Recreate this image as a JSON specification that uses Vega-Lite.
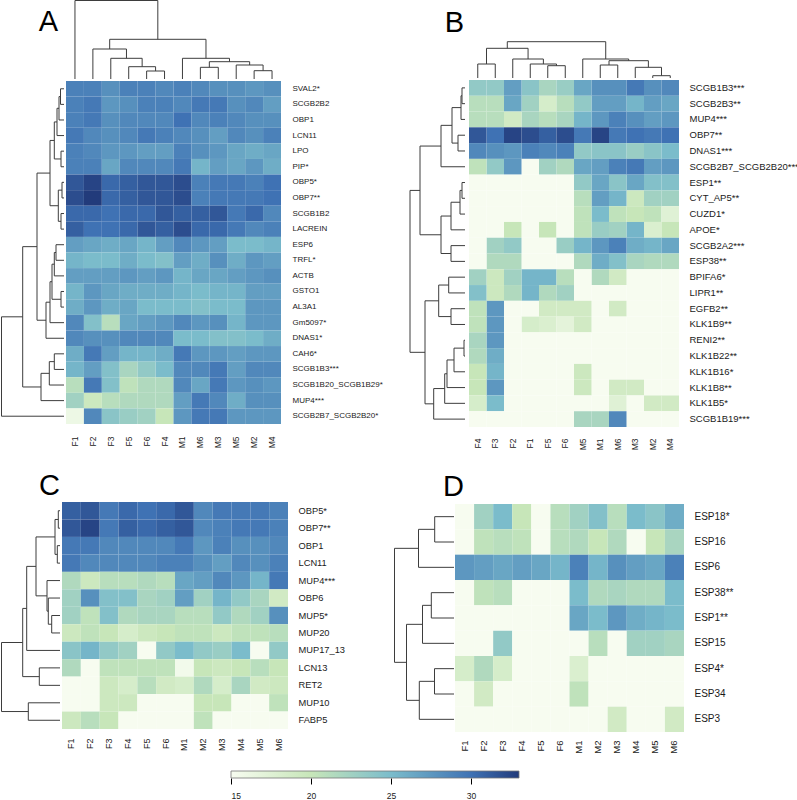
{
 "$schema": "https://vega.github.io/schema/vega-lite/v6.json",
 "padding": 0,
 "background": "white",
 "config": {
   "view": {"stroke": null},
   "font": "Liberation Sans",
   "axis": {"labelFont": "Liberation Sans", "labelColor": "#1a1a1a", "ticks": false, "domain": false, "grid": false}
 },
 "datasets": {
  "A": [
   {"gene":"SVAL2*","F1":29,"F2":29,"F3":28,"F5":29,"F6":29,"F4":28.5,"M1":29,"M6":28.5,"M3":28,"M5":28,"M2":27.5,"M4":28},
   {"gene":"SCGB2B2","F1":29,"F2":29.5,"F3":27.5,"F5":28,"F6":29,"F4":29,"M1":28.5,"M6":29.5,"M3":29.5,"M5":28,"M2":28.5,"M4":27},
   {"gene":"OBP1","F1":29,"F2":29.5,"F3":28,"F5":28.5,"F6":28.5,"F4":28.5,"M1":30,"M6":28.5,"M3":29,"M5":28.5,"M2":28,"M4":28},
   {"gene":"LCN11","F1":29.5,"F2":28.5,"F3":28,"F5":28.5,"F6":29.5,"F4":29,"M1":28.5,"M6":28,"M3":27,"M5":28.5,"M2":28,"M4":29},
   {"gene":"LPO","F1":29,"F2":28.5,"F3":27.5,"F5":27.5,"F6":27,"F4":27,"M1":29,"M6":28,"M3":27.5,"M5":26.5,"M2":26,"M4":26.5},
   {"gene":"PIP*","F1":29,"F2":29,"F3":26.5,"F5":28.5,"F6":28.5,"F4":28.5,"M1":29.5,"M6":25.5,"M3":27,"M5":26.5,"M2":27.5,"M4":26},
   {"gene":"OBP5*","F1":31.5,"F2":32.5,"F3":30.5,"F5":31,"F6":31.5,"F4":31.5,"M1":32,"M6":29,"M3":29.5,"M5":29.5,"M2":29,"M4":30},
   {"gene":"OBP7**","F1":32,"F2":33,"F3":30.5,"F5":31,"F6":31.5,"F4":31.5,"M1":32,"M6":29,"M3":29.5,"M5":29.5,"M2":29.5,"M4":30},
   {"gene":"SCGB1B2","F1":30.5,"F2":30.5,"F3":30,"F5":30.5,"F6":30.5,"F4":31.5,"M1":31,"M6":31,"M3":31.5,"M5":29.5,"M2":30.5,"M4":28.5},
   {"gene":"LACREIN","F1":31,"F2":30,"F3":30,"F5":30.5,"F6":31.5,"F4":31,"M1":32,"M6":30.5,"M3":30.5,"M5":29.5,"M2":28.5,"M4":29},
   {"gene":"ESP6","F1":27,"F2":26.5,"F3":26,"F5":26.5,"F6":25.5,"F4":27,"M1":28.5,"M6":27.5,"M3":27,"M5":25,"M2":25,"M4":25.5},
   {"gene":"TRFL*","F1":25.5,"F2":25,"F3":25,"F5":26,"F6":25,"F4":24.5,"M1":27,"M6":26,"M3":28,"M5":26,"M2":27.5,"M4":27},
   {"gene":"ACTB","F1":27,"F2":27,"F3":27,"F5":27.5,"F6":27,"F4":27.5,"M1":25.5,"M6":26.5,"M3":26.5,"M5":27,"M2":27.5,"M4":28},
   {"gene":"GSTO1","F1":25.5,"F2":27.5,"F3":26.5,"F5":26,"F6":26,"F4":26,"M1":25.5,"M6":25,"M3":25.5,"M5":25.5,"M2":27,"M4":27},
   {"gene":"AL3A1","F1":26,"F2":27.5,"F3":26,"F5":26.5,"F6":25,"F4":25,"M1":25,"M6":24.5,"M3":25,"M5":25,"M2":27.5,"M4":27.5},
   {"gene":"Gm5097*","F1":28.5,"F2":24.5,"F3":21,"F5":26.5,"F6":27,"F4":27.5,"M1":28.5,"M6":27.5,"M3":28,"M5":25.5,"M2":27.5,"M4":27.5},
   {"gene":"DNAS1*","F1":28.5,"F2":28,"F3":28,"F5":28.5,"F6":28.5,"F4":28.5,"M1":25,"M6":25,"M3":24.5,"M5":24.5,"M2":25,"M4":26},
   {"gene":"CAH6*","F1":26,"F2":29.5,"F3":27,"F5":25.5,"F6":25.5,"F4":26,"M1":29.5,"M6":27.5,"M3":27.5,"M5":27,"M2":27.5,"M4":27.5},
   {"gene":"SCGB1B3***","F1":25.5,"F2":27,"F3":24.5,"F5":22,"F6":23.5,"F4":25,"M1":28.5,"M6":28.5,"M3":29.5,"M5":27,"M2":28.5,"M4":28.5},
   {"gene":"SCGB1B20_SCGB1B29*","F1":21,"F2":29.5,"F3":24.5,"F5":20.5,"F6":21.5,"F4":21.5,"M1":28.5,"M6":26.5,"M3":29.5,"M5":27.5,"M2":28,"M4":27.5},
   {"gene":"MUP4***","F1":22.5,"F2":19.5,"F3":21,"F5":21.5,"F6":21.5,"F4":21.5,"M1":27,"M6":29.5,"M3":28.5,"M5":26,"M2":28,"M4":28},
   {"gene":"SCGB2B7_SCGB2B20*","F1":16,"F2":28.5,"F3":24,"F5":23,"F6":22.5,"F4":20,"M1":27.5,"M6":29.5,"M3":29.5,"M5":27.5,"M2":27.5,"M4":27.5}
  ],
  "B": [
   {"gene":"SCGB1B3***","F4":23.5,"F3":23.5,"F2":27,"F1":24,"F5":22,"F6":23,"M5":26.5,"M1":28,"M6":28,"M3":29.5,"M2":28,"M4":28.5},
   {"gene":"SCGB2B3**","F4":21,"F3":21,"F2":26.5,"F1":22.5,"F5":18.5,"F6":21,"M5":23.5,"M1":27,"M6":27,"M3":25.5,"M2":27,"M4":26.5},
   {"gene":"MUP4***","F4":21,"F3":21,"F2":19,"F1":22,"F5":21,"F6":22,"M5":25.5,"M1":27.5,"M6":29,"M3":28,"M2":27,"M4":27.5},
   {"gene":"OBP7**","F4":31.5,"F3":30,"F2":32.5,"F1":32,"F5":31,"F6":32,"M5":29.5,"M1":32.5,"M6":29.5,"M3":30,"M2":29.5,"M4":30},
   {"gene":"DNAS1***","F4":28.5,"F3":28,"F2":27.5,"F1":29,"F5":28.5,"F6":29,"M5":23.5,"M1":24,"M6":24,"M3":23,"M2":24,"M4":25},
   {"gene":"SCGB2B7_SCGB2B20***","F4":20.5,"F3":23.5,"F2":27.5,"F1":15,"F5":22.5,"F6":21.5,"M5":26.5,"M1":27,"M6":29,"M3":29.5,"M2":27,"M4":27.5},
   {"gene":"ESP1**","F4":15,"F3":15,"F2":15,"F1":15,"F5":15,"F6":15,"M5":23.5,"M1":26.5,"M6":24,"M3":26.5,"M2":24.5,"M4":24.5},
   {"gene":"CYT_AP5**","F4":15,"F3":15,"F2":15,"F1":15,"F5":15,"F6":15,"M5":21,"M1":27,"M6":25.5,"M3":19.5,"M2":22.5,"M4":22.5},
   {"gene":"CUZD1*","F4":15,"F3":15,"F2":15,"F1":15,"F5":15,"F6":15,"M5":20.5,"M1":25,"M6":20.5,"M3":20,"M2":20.5,"M4":17.5},
   {"gene":"APOE*","F4":15,"F3":15,"F2":20,"F1":15,"F5":20,"F6":15,"M5":20.5,"M1":23,"M6":22.5,"M3":25.5,"M2":18,"M4":20},
   {"gene":"SCGB2A2***","F4":15,"F3":22.5,"F2":23.5,"F1":15,"F5":15,"F6":23,"M5":25.5,"M1":27.5,"M6":29,"M3":26,"M2":25.5,"M4":26.5},
   {"gene":"ESP38**","F4":15,"F3":21.5,"F2":21.5,"F1":15,"F5":15,"F6":15,"M5":21.5,"M1":26,"M6":24.5,"M3":22,"M2":21.5,"M4":21.5},
   {"gene":"BPIFA6*","F4":22.5,"F3":19.5,"F2":22.5,"F1":25.5,"F5":25.5,"F6":21,"M5":15,"M1":21.5,"M6":19,"M3":15,"M2":15,"M4":15},
   {"gene":"LIPR1**","F4":24.5,"F3":19.5,"F2":21.5,"F1":25.5,"F5":21.5,"F6":22.5,"M5":15,"M1":15,"M6":15,"M3":15,"M2":15,"M4":15},
   {"gene":"EGFB2**","F4":20.5,"F3":27.5,"F2":15,"F1":15,"F5":19,"F6":19,"M5":19,"M1":15,"M6":19,"M3":15,"M2":15,"M4":15},
   {"gene":"KLK1B9**","F4":20.5,"F3":27.5,"F2":15,"F1":18.5,"F5":18,"F6":17,"M5":19,"M1":15,"M6":15,"M3":15,"M2":15,"M4":15},
   {"gene":"RENI2**","F4":22,"F3":27.5,"F2":15,"F1":15,"F5":15,"F6":15,"M5":15,"M1":15,"M6":15,"M3":15,"M2":15,"M4":15},
   {"gene":"KLK1B22**","F4":21.5,"F3":26,"F2":15,"F1":15,"F5":15,"F6":15,"M5":15,"M1":15,"M6":15,"M3":15,"M2":15,"M4":15},
   {"gene":"KLK1B16*","F4":20,"F3":25.5,"F2":15,"F1":15,"F5":15,"F6":15,"M5":19.5,"M1":15,"M6":15,"M3":15,"M2":15,"M4":15},
   {"gene":"KLK1B8**","F4":20,"F3":27.5,"F2":15,"F1":15,"F5":15,"F6":15,"M5":19.5,"M1":15,"M6":19,"M3":19,"M2":15,"M4":15},
   {"gene":"KLK1B5*","F4":18.5,"F3":25,"F2":15,"F1":15,"F5":15,"F6":15,"M5":15,"M1":15,"M6":17.5,"M3":15,"M2":19,"M4":19},
   {"gene":"SCGB1B19***","F4":15,"F3":15,"F2":15,"F1":15,"F5":15,"F6":15,"M5":22,"M1":22,"M6":28.5,"M3":15,"M2":15,"M4":15}
  ],
  "C": [
   {"gene":"OBP5*","F1":31,"F2":31.5,"F3":29.5,"F4":30.5,"F5":30,"F6":30.5,"M1":31.5,"M2":28.5,"M3":29.5,"M4":29.5,"M5":29.5,"M6":29},
   {"gene":"OBP7**","F1":31.5,"F2":32.5,"F3":29.5,"F4":31,"F5":30.5,"F6":31,"M1":31.5,"M2":28.5,"M3":29,"M4":29.5,"M5":29.5,"M6":29},
   {"gene":"OBP1","F1":29.5,"F2":29.5,"F3":28.5,"F4":28.5,"F5":28.5,"F6":28.5,"M1":29.5,"M2":27.5,"M3":29,"M4":28,"M5":28,"M6":28.5},
   {"gene":"LCN11","F1":29.5,"F2":28.5,"F3":28.5,"F4":28.5,"F5":28.5,"F6":29,"M1":29,"M2":28,"M3":27,"M4":28.5,"M5":28,"M6":29},
   {"gene":"MUP4***","F1":21.5,"F2":19.5,"F3":21,"F4":21,"F5":21.5,"F6":21,"M1":26.5,"M2":27,"M3":28.5,"M4":27.5,"M5":25.5,"M6":29.5},
   {"gene":"OBP6","F1":22.5,"F2":28,"F3":24.5,"F4":24.5,"F5":22,"F6":22.5,"M1":27,"M2":22.5,"M3":25.5,"M4":23.5,"M5":22,"M6":19},
   {"gene":"MUP5*","F1":22.5,"F2":20.5,"F3":24.5,"F4":21.5,"F5":22,"F6":22,"M1":21,"M2":21,"M3":23.5,"M4":21.5,"M5":22.5,"M6":28},
   {"gene":"MUP20","F1":19.5,"F2":20.5,"F3":20,"F4":18.5,"F5":19.5,"F6":20,"M1":20.5,"M2":20.5,"M3":19.5,"M4":20.5,"M5":20.5,"M6":21},
   {"gene":"MUP17_13","F1":24,"F2":25.5,"F3":23.5,"F4":22.5,"F5":15,"F6":23.5,"M1":25,"M2":23.5,"M3":23,"M4":25,"M5":15,"M6":23.5},
   {"gene":"LCN13","F1":21.5,"F2":15,"F3":20.5,"F4":20.5,"F5":20.5,"F6":20.5,"M1":15.5,"M2":20,"M3":19.5,"M4":20,"M5":21,"M6":20},
   {"gene":"RET2","F1":15,"F2":15,"F3":19.5,"F4":18.5,"F5":21,"F6":19,"M1":18.5,"M2":21.5,"M3":18.5,"M4":22,"M5":19,"M6":19.5},
   {"gene":"MUP10","F1":15,"F2":15,"F3":19.5,"F4":19.5,"F5":15,"F6":15,"M1":15,"M2":20,"M3":20,"M4":15,"M5":15,"M6":20.5},
   {"gene":"FABP5","F1":19.5,"F2":21,"F3":20,"F4":15,"F5":15,"F6":15,"M1":15,"M2":20.5,"M3":15,"M4":15,"M5":15,"M6":15}
  ],
  "D": [
   {"gene":"ESP18*","F1":15,"F2":22.5,"F3":25,"F4":20,"F5":15,"F6":21,"M1":22.5,"M2":24.5,"M3":21,"M4":25,"M5":24,"M6":26},
   {"gene":"ESP16","F1":15,"F2":20.5,"F3":21,"F4":20.5,"F5":15,"F6":21,"M1":21.5,"M2":20,"M3":21.5,"M4":15,"M5":20,"M6":22},
   {"gene":"ESP6","F1":27.5,"F2":27,"F3":26.5,"F4":27,"F5":26.5,"F6":25.5,"M1":29,"M2":25.5,"M3":28,"M4":27,"M5":26.5,"M6":29},
   {"gene":"ESP38**","F1":15,"F2":20.5,"F3":21,"F4":15,"F5":15,"F6":15,"M1":25,"M2":21.5,"M3":22,"M4":21.5,"M5":21.5,"M6":25},
   {"gene":"ESP1**","F1":15,"F2":15,"F3":15,"F4":15,"F5":15,"F6":15,"M1":26.5,"M2":25,"M3":27.5,"M4":26,"M5":25.5,"M6":25},
   {"gene":"ESP15","F1":15,"F2":15,"F3":23.5,"F4":15,"F5":15,"F6":15,"M1":15,"M2":21,"M3":15,"M4":22.5,"M5":22.5,"M6":22},
   {"gene":"ESP4*","F1":18.5,"F2":21.5,"F3":18.5,"F4":15,"F5":15,"F6":15,"M1":18,"M2":15,"M3":15,"M4":15,"M5":15,"M6":15},
   {"gene":"ESP34","F1":15,"F2":19,"F3":15,"F4":15,"F5":15,"F6":15,"M1":20.5,"M2":15,"M3":15,"M4":15,"M5":15,"M6":15},
   {"gene":"ESP3","F1":15,"F2":15,"F3":15,"F4":15,"F5":15,"F6":15,"M1":15,"M2":15,"M3":19,"M4":15,"M5":15,"M6":19}
  ],
  "treeA_col": [
   {"lo":4.5,"hi":5.5,"h":8,"hl":0,"hr":0},
   {"lo":3.5,"hi":5,"h":12.3,"hl":0,"hr":8},
   {"lo":2.5,"hi":4.25,"h":20.7,"hl":0,"hr":12.3},
   {"lo":1.5,"hi":3.375,"h":30,"hl":0,"hr":20.7},
   {"lo":7.5,"hi":8.5,"h":11.7,"hl":0,"hr":0},
   {"lo":10.5,"hi":11.5,"h":8.3,"hl":0,"hr":0},
   {"lo":9.5,"hi":11,"h":14,"hl":0,"hr":8.3},
   {"lo":8,"hi":10.25,"h":17.3,"hl":11.7,"hr":14},
   {"lo":6.5,"hi":9.125,"h":20.7,"hl":0,"hr":17.3},
   {"lo":2.4375,"hi":7.8125,"h":39.7,"hl":30,"hr":20.7},
   {"lo":0.5,"hi":5.125,"h":78.5,"hl":0,"hr":39.7}
  ],
  "treeA_row": [
   {"lo":0.5,"hi":1.5,"h":3.5,"hl":0,"hr":0},
   {"lo":1,"hi":2.5,"h":5,"hl":3.5,"hr":0},
   {"lo":1.75,"hi":3.5,"h":7,"hl":5,"hr":0},
   {"lo":4.5,"hi":5.5,"h":3,"hl":0,"hr":0},
   {"lo":2.625,"hi":5,"h":9.7,"hl":7,"hr":3},
   {"lo":6.5,"hi":7.5,"h":2,"hl":0,"hr":0},
   {"lo":8.5,"hi":9.5,"h":3,"hl":0,"hr":0},
   {"lo":7,"hi":9,"h":5.7,"hl":2,"hr":3},
   {"lo":3.8125,"hi":8,"h":14,"hl":9.7,"hr":5.7},
   {"lo":10.5,"hi":11.5,"h":8,"hl":0,"hr":0},
   {"lo":11,"hi":12.5,"h":9.7,"hl":8,"hr":0},
   {"lo":13.5,"hi":14.5,"h":3,"hl":0,"hr":0},
   {"lo":11.75,"hi":14,"h":12,"hl":9.7,"hr":3},
   {"lo":12.875,"hi":15.5,"h":14,"hl":12,"hr":0},
   {"lo":14.1875,"hi":16.5,"h":18,"hl":14,"hr":0},
   {"lo":5.90625,"hi":15.34375,"h":27,"hl":14,"hr":18},
   {"lo":17.5,"hi":18.5,"h":9.7,"hl":0,"hr":0},
   {"lo":18,"hi":19.5,"h":14.7,"hl":9.7,"hr":0},
   {"lo":18.75,"hi":20.5,"h":23,"hl":14.7,"hr":0},
   {"lo":10.625,"hi":19.625,"h":41.3,"hl":27,"hr":23},
   {"lo":15.125,"hi":21.5,"h":62.5,"hl":41.3,"hr":0}
  ],
  "treeB_col": [
   {"lo":0.5,"hi":1.5,"h":14,"hl":0,"hr":0},
   {"lo":4.5,"hi":5.5,"h":12.3,"hl":0,"hr":0},
   {"lo":3.5,"hi":5,"h":14,"hl":0,"hr":12.3},
   {"lo":2.5,"hi":4.25,"h":19,"hl":0,"hr":14},
   {"lo":1,"hi":3.375,"h":29.7,"hl":14,"hr":19},
   {"lo":7.5,"hi":8.5,"h":13,"hl":0,"hr":0},
   {"lo":10.5,"hi":11.5,"h":2.3,"hl":0,"hr":0},
   {"lo":9.5,"hi":11,"h":10.7,"hl":0,"hr":2.3},
   {"lo":8,"hi":10.25,"h":17.3,"hl":13,"hr":10.7},
   {"lo":6.5,"hi":9.125,"h":19,"hl":0,"hr":17.3},
   {"lo":2.1875,"hi":7.8125,"h":36.3,"hl":29.7,"hr":19}
  ],
  "treeB_row": [
   {"lo":0.5,"hi":1.5,"h":3,"hl":0,"hr":0},
   {"lo":1,"hi":2.5,"h":4,"hl":3,"hr":0},
   {"lo":3.5,"hi":4.5,"h":7,"hl":0,"hr":0},
   {"lo":1.75,"hi":4,"h":13,"hl":4,"hr":7},
   {"lo":2.875,"hi":5.5,"h":24,"hl":13,"hr":0},
   {"lo":6.5,"hi":7.5,"h":3,"hl":0,"hr":0},
   {"lo":7,"hi":8.5,"h":5,"hl":3,"hr":0},
   {"lo":7.75,"hi":9.5,"h":14,"hl":5,"hr":0},
   {"lo":10.5,"hi":11.5,"h":14,"hl":0,"hr":0},
   {"lo":8.625,"hi":11,"h":24,"hl":14,"hr":14},
   {"lo":4.1875,"hi":9.8125,"h":45,"hl":24,"hr":24},
   {"lo":12.5,"hi":13.5,"h":16.3,"hl":0,"hr":0},
   {"lo":14.5,"hi":15.5,"h":14,"hl":0,"hr":0},
   {"lo":13,"hi":15,"h":26.3,"hl":16.3,"hr":14},
   {"lo":16.5,"hi":17.5,"h":1,"hl":0,"hr":0},
   {"lo":17,"hi":18.5,"h":11,"hl":1,"hr":0},
   {"lo":17.75,"hi":19.5,"h":18,"hl":11,"hr":0},
   {"lo":18.625,"hi":20.5,"h":20.3,"hl":18,"hr":0},
   {"lo":19.5625,"hi":21.5,"h":31.3,"hl":20.3,"hr":0},
   {"lo":14,"hi":20.53125,"h":40,"hl":26.3,"hr":31.3},
   {"lo":7,"hi":17.265625,"h":55,"hl":45,"hr":40}
  ],
  "treeC_row": [
   {"lo":0.5,"hi":1.5,"h":1.7,"hl":0,"hr":0},
   {"lo":2.5,"hi":3.5,"h":2.7,"hl":0,"hr":0},
   {"lo":1,"hi":3,"h":5,"hl":1.7,"hr":2.7},
   {"lo":6.5,"hi":7.5,"h":8.3,"hl":0,"hr":0},
   {"lo":5.5,"hi":7,"h":11.7,"hl":0,"hr":8.3},
   {"lo":4.5,"hi":6.25,"h":13,"hl":0,"hr":11.7},
   {"lo":2,"hi":5.375,"h":24,"hl":5,"hr":13},
   {"lo":3.6875,"hi":8.5,"h":33.3,"hl":24,"hr":0},
   {"lo":9.5,"hi":10.5,"h":20.7,"hl":0,"hr":0},
   {"lo":11.5,"hi":12.5,"h":31.7,"hl":0,"hr":0},
   {"lo":6.09375,"hi":10,"h":37.3,"hl":33.3,"hr":20.7},
   {"lo":8.046875,"hi":12,"h":58.5,"hl":37.3,"hr":31.7}
  ],
  "treeD_row": [
   {"lo":0.5,"hi":1.5,"h":19.3,"hl":0,"hr":0},
   {"lo":1,"hi":2.5,"h":35.5,"hl":19.3,"hr":0},
   {"lo":3.5,"hi":4.5,"h":22.7,"hl":0,"hr":0},
   {"lo":4,"hi":5.5,"h":31.5,"hl":22.7,"hr":0},
   {"lo":6.5,"hi":7.5,"h":19.5,"hl":0,"hr":0},
   {"lo":7,"hi":8.5,"h":34.7,"hl":19.5,"hr":0},
   {"lo":4.75,"hi":7.75,"h":47.5,"hl":31.5,"hr":34.7},
   {"lo":1.75,"hi":6.25,"h":59.5,"hl":35.5,"hr":47.5}
  ]
 },
 "spacing": 18,
 "resolve": {"scale": {"x": "independent", "y": "independent"}},
 "vconcat": [
  {"hconcat": [
    {"vconcat": [
      {"hconcat": [
        {"width": 63, "height": 79, "data": {"values": [{"panel": "A"}]},
         "mark": {"type": "text", "font": "Liberation Sans", "fontSize": 29, "align": "right", "baseline": "alphabetic", "dx": 25.5, "dy": -8.5, "color": "#000"},
         "encoding": {"text": {"field": "panel"}}},
        {"width": 215, "height": 79, "data": {"name": "treeA_col"},
         "layer": [
          {"mark": {"type": "rule", "color": "#3d3d3d", "strokeWidth": 1},
           "encoding": {"x": {"field": "lo", "type": "quantitative", "scale": {"domain": [0, 12], "nice": false, "zero": false}, "axis": null},
                        "x2": {"field": "hi"},
                        "y": {"field": "h", "type": "quantitative", "scale": {"domain": [0, 79], "nice": false, "zero": false}, "axis": null}}},
          {"mark": {"type": "rule", "color": "#3d3d3d", "strokeWidth": 1},
           "encoding": {"x": {"field": "lo", "type": "quantitative", "scale": {"domain": [0, 12], "nice": false, "zero": false}, "axis": null},
                        "y": {"field": "hl", "type": "quantitative", "scale": {"domain": [0, 79], "nice": false, "zero": false}, "axis": null},
                        "y2": {"field": "h"}}},
          {"mark": {"type": "rule", "color": "#3d3d3d", "strokeWidth": 1},
           "encoding": {"x": {"field": "hi", "type": "quantitative", "scale": {"domain": [0, 12], "nice": false, "zero": false}, "axis": null},
                        "y": {"field": "hr", "type": "quantitative", "scale": {"domain": [0, 79], "nice": false, "zero": false}, "axis": null},
                        "y2": {"field": "h"}}}
         ]}
      ], "spacing": 2, "bounds": "flush"},
      {"hconcat": [
        {"width": 63, "height": 343, "data": {"name": "treeA_row"},
         "layer": [
          {"mark": {"type": "rule", "color": "#3d3d3d", "strokeWidth": 1},
           "encoding": {"y": {"field": "lo", "type": "quantitative", "scale": {"domain": [0, 22], "reverse": true, "nice": false, "zero": false}, "axis": null},
                        "y2": {"field": "hi"},
                        "x": {"field": "h", "type": "quantitative", "scale": {"domain": [0, 63], "reverse": true, "nice": false, "zero": false}, "axis": null}}},
          {"mark": {"type": "rule", "color": "#3d3d3d", "strokeWidth": 1},
           "encoding": {"y": {"field": "lo", "type": "quantitative", "scale": {"domain": [0, 22], "reverse": true, "nice": false, "zero": false}, "axis": null},
                        "x": {"field": "hl", "type": "quantitative", "scale": {"domain": [0, 63], "reverse": true, "nice": false, "zero": false}, "axis": null},
                        "x2": {"field": "h"}}},
          {"mark": {"type": "rule", "color": "#3d3d3d", "strokeWidth": 1},
           "encoding": {"y": {"field": "hi", "type": "quantitative", "scale": {"domain": [0, 22], "reverse": true, "nice": false, "zero": false}, "axis": null},
                        "x": {"field": "hr", "type": "quantitative", "scale": {"domain": [0, 63], "reverse": true, "nice": false, "zero": false}, "axis": null},
                        "x2": {"field": "h"}}}
         ]},
        {"width": 215, "height": 343, "data": {"name": "A"},
         "transform": [{"fold": ["F1","F2","F3","F4","F5","F6","M1","M2","M3","M4","M5","M6"], "as": ["s", "v"]}],
         "mark": {"type": "rect"},
         "encoding": {
          "x": {"field": "s", "type": "ordinal", "sort": ["F1","F2","F3","F5","F6","F4","M1","M6","M3","M5","M2","M4"], "scale": {"paddingInner": 0, "paddingOuter": 0},
                "axis": {"orient": "bottom", "title": null, "labelAngle": 270, "labelFontSize": 8.5, "labelPadding": 12}},
          "y": {"field": "gene", "type": "ordinal", "sort": null, "scale": {"paddingInner": 0, "paddingOuter": 0},
                "axis": {"orient": "right", "title": null, "labelFontSize": 8, "labelPadding": 11}},
          "color": {"field": "v", "type": "quantitative", "legend": null,
                    "scale": {"type": "linear", "domain": [15, 20, 25, 30, 33], "range": ["#f7fcf0", "#c7e6b9", "#7bbccb", "#3f72b4", "#223b7b"], "interpolate": "rgb", "clamp": true, "zero": false, "nice": false}}
         }}
      ], "spacing": 2, "bounds": "flush"}
    ], "spacing": 1},
    {"vconcat": [
      {"hconcat": [
        {"width": 63, "height": 78, "data": {"values": [{"panel": "B"}]},
         "mark": {"type": "text", "font": "Liberation Sans", "fontSize": 29, "align": "right", "baseline": "alphabetic", "dx": 30.5, "dy": -7, "color": "#000"},
         "encoding": {"text": {"field": "panel"}}},
        {"width": 210, "height": 78, "data": {"name": "treeB_col"},
         "layer": [
          {"mark": {"type": "rule", "color": "#3d3d3d", "strokeWidth": 1},
           "encoding": {"x": {"field": "lo", "type": "quantitative", "scale": {"domain": [0, 12], "nice": false, "zero": false}, "axis": null},
                        "x2": {"field": "hi"},
                        "y": {"field": "h", "type": "quantitative", "scale": {"domain": [0, 78], "nice": false, "zero": false}, "axis": null}}},
          {"mark": {"type": "rule", "color": "#3d3d3d", "strokeWidth": 1},
           "encoding": {"x": {"field": "lo", "type": "quantitative", "scale": {"domain": [0, 12], "nice": false, "zero": false}, "axis": null},
                        "y": {"field": "hl", "type": "quantitative", "scale": {"domain": [0, 78], "nice": false, "zero": false}, "axis": null},
                        "y2": {"field": "h"}}},
          {"mark": {"type": "rule", "color": "#3d3d3d", "strokeWidth": 1},
           "encoding": {"x": {"field": "hi", "type": "quantitative", "scale": {"domain": [0, 12], "nice": false, "zero": false}, "axis": null},
                        "y": {"field": "hr", "type": "quantitative", "scale": {"domain": [0, 78], "nice": false, "zero": false}, "axis": null},
                        "y2": {"field": "h"}}}
         ]}
      ], "spacing": 4, "bounds": "flush"},
      {"hconcat": [
        {"width": 63, "height": 347, "data": {"name": "treeB_row"},
         "layer": [
          {"mark": {"type": "rule", "color": "#3d3d3d", "strokeWidth": 1},
           "encoding": {"y": {"field": "lo", "type": "quantitative", "scale": {"domain": [0, 22], "reverse": true, "nice": false, "zero": false}, "axis": null},
                        "y2": {"field": "hi"},
                        "x": {"field": "h", "type": "quantitative", "scale": {"domain": [0, 63], "reverse": true, "nice": false, "zero": false}, "axis": null}}},
          {"mark": {"type": "rule", "color": "#3d3d3d", "strokeWidth": 1},
           "encoding": {"y": {"field": "lo", "type": "quantitative", "scale": {"domain": [0, 22], "reverse": true, "nice": false, "zero": false}, "axis": null},
                        "x": {"field": "hl", "type": "quantitative", "scale": {"domain": [0, 63], "reverse": true, "nice": false, "zero": false}, "axis": null},
                        "x2": {"field": "h"}}},
          {"mark": {"type": "rule", "color": "#3d3d3d", "strokeWidth": 1},
           "encoding": {"y": {"field": "hi", "type": "quantitative", "scale": {"domain": [0, 22], "reverse": true, "nice": false, "zero": false}, "axis": null},
                        "x": {"field": "hr", "type": "quantitative", "scale": {"domain": [0, 63], "reverse": true, "nice": false, "zero": false}, "axis": null},
                        "x2": {"field": "h"}}}
         ]},
        {"width": 210, "height": 347, "data": {"name": "B"},
         "transform": [{"fold": ["F1","F2","F3","F4","F5","F6","M1","M2","M3","M4","M5","M6"], "as": ["s", "v"]}],
         "mark": {"type": "rect"},
         "encoding": {
          "x": {"field": "s", "type": "ordinal", "sort": ["F4","F3","F2","F1","F5","F6","M5","M1","M6","M3","M2","M4"], "scale": {"paddingInner": 0, "paddingOuter": 0},
                "axis": {"orient": "bottom", "title": null, "labelAngle": 270, "labelFontSize": 8.5, "labelPadding": 11}},
          "y": {"field": "gene", "type": "ordinal", "sort": null, "scale": {"paddingInner": 0, "paddingOuter": 0},
                "axis": {"orient": "right", "title": null, "labelFontSize": 9.5, "labelPadding": 10}},
          "color": {"field": "v", "type": "quantitative", "legend": null,
                    "scale": {"type": "linear", "domain": [15, 20, 25, 30, 33], "range": ["#f7fcf0", "#c7e6b9", "#7bbccb", "#3f72b4", "#223b7b"], "interpolate": "rgb", "clamp": true, "zero": false, "nice": false}}
         }}
      ], "spacing": 4, "bounds": "flush"}
    ], "spacing": 1}
  ], "spacing": 19},
  {"vconcat": [
   {"hconcat": [
    {"vconcat": [
      {"width": 59, "height": 34, "data": {"values": [{"panel": "C"}]},
       "mark": {"type": "text", "font": "Liberation Sans", "fontSize": 29, "align": "right", "baseline": "alphabetic", "dx": 29.5, "dy": 10, "color": "#000"},
       "encoding": {"text": {"field": "panel"}}},
      {"hconcat": [
        {"width": 59, "height": 227, "data": {"name": "treeC_row"},
         "layer": [
          {"mark": {"type": "rule", "color": "#3d3d3d", "strokeWidth": 1},
           "encoding": {"y": {"field": "lo", "type": "quantitative", "scale": {"domain": [0, 13], "reverse": true, "nice": false, "zero": false}, "axis": null},
                        "y2": {"field": "hi"},
                        "x": {"field": "h", "type": "quantitative", "scale": {"domain": [0, 59], "reverse": true, "nice": false, "zero": false}, "axis": null}}},
          {"mark": {"type": "rule", "color": "#3d3d3d", "strokeWidth": 1},
           "encoding": {"y": {"field": "lo", "type": "quantitative", "scale": {"domain": [0, 13], "reverse": true, "nice": false, "zero": false}, "axis": null},
                        "x": {"field": "hl", "type": "quantitative", "scale": {"domain": [0, 59], "reverse": true, "nice": false, "zero": false}, "axis": null},
                        "x2": {"field": "h"}}},
          {"mark": {"type": "rule", "color": "#3d3d3d", "strokeWidth": 1},
           "encoding": {"y": {"field": "hi", "type": "quantitative", "scale": {"domain": [0, 13], "reverse": true, "nice": false, "zero": false}, "axis": null},
                        "x": {"field": "hr", "type": "quantitative", "scale": {"domain": [0, 59], "reverse": true, "nice": false, "zero": false}, "axis": null},
                        "x2": {"field": "h"}}}
         ]},
        {"width": 226, "height": 227, "data": {"name": "C"},
         "transform": [{"fold": ["F1","F2","F3","F4","F5","F6","M1","M2","M3","M4","M5","M6"], "as": ["s", "v"]}],
         "mark": {"type": "rect"},
         "encoding": {
          "x": {"field": "s", "type": "ordinal", "sort": null, "scale": {"paddingInner": 0, "paddingOuter": 0},
                "axis": {"orient": "bottom", "title": null, "labelAngle": 270, "labelFontSize": 9, "labelPadding": 9}},
          "y": {"field": "gene", "type": "ordinal", "sort": null, "scale": {"paddingInner": 0, "paddingOuter": 0},
                "axis": {"orient": "right", "title": null, "labelFontSize": 9.3, "labelPadding": 10}},
          "color": {"field": "v", "type": "quantitative", "legend": null,
                    "scale": {"type": "linear", "domain": [15, 20, 25, 30, 33], "range": ["#f7fcf0", "#c7e6b9", "#7bbccb", "#3f72b4", "#223b7b"], "interpolate": "rgb", "clamp": true, "zero": false, "nice": false}}
         }}
      ], "spacing": 2, "bounds": "flush"}
    ], "spacing": 0},
    {"vconcat": [
      {"width": 60, "height": 36, "data": {"values": [{"panel": "D"}]},
       "mark": {"type": "text", "font": "Liberation Sans", "fontSize": 29, "align": "right", "baseline": "alphabetic", "dx": 40, "dy": 10, "color": "#000"},
       "encoding": {"text": {"field": "panel"}}},
      {"hconcat": [
        {"width": 60, "height": 228, "data": {"name": "treeD_row"},
         "layer": [
          {"mark": {"type": "rule", "color": "#3d3d3d", "strokeWidth": 1},
           "encoding": {"y": {"field": "lo", "type": "quantitative", "scale": {"domain": [0, 9], "reverse": true, "nice": false, "zero": false}, "axis": null},
                        "y2": {"field": "hi"},
                        "x": {"field": "h", "type": "quantitative", "scale": {"domain": [0, 60], "reverse": true, "nice": false, "zero": false}, "axis": null}}},
          {"mark": {"type": "rule", "color": "#3d3d3d", "strokeWidth": 1},
           "encoding": {"y": {"field": "lo", "type": "quantitative", "scale": {"domain": [0, 9], "reverse": true, "nice": false, "zero": false}, "axis": null},
                        "x": {"field": "hl", "type": "quantitative", "scale": {"domain": [0, 60], "reverse": true, "nice": false, "zero": false}, "axis": null},
                        "x2": {"field": "h"}}},
          {"mark": {"type": "rule", "color": "#3d3d3d", "strokeWidth": 1},
           "encoding": {"y": {"field": "hi", "type": "quantitative", "scale": {"domain": [0, 9], "reverse": true, "nice": false, "zero": false}, "axis": null},
                        "x": {"field": "hr", "type": "quantitative", "scale": {"domain": [0, 60], "reverse": true, "nice": false, "zero": false}, "axis": null},
                        "x2": {"field": "h"}}}
         ]},
        {"width": 229, "height": 228, "data": {"name": "D"},
         "transform": [{"fold": ["F1","F2","F3","F4","F5","F6","M1","M2","M3","M4","M5","M6"], "as": ["s", "v"]}],
         "mark": {"type": "rect"},
         "encoding": {
          "x": {"field": "s", "type": "ordinal", "sort": null, "scale": {"paddingInner": 0, "paddingOuter": 0},
                "axis": {"orient": "bottom", "title": null, "labelAngle": 270, "labelFontSize": 9.5, "labelPadding": 8}},
          "y": {"field": "gene", "type": "ordinal", "sort": null, "scale": {"paddingInner": 0, "paddingOuter": 0},
                "axis": {"orient": "right", "title": null, "labelFontSize": 10, "labelPadding": 10}},
          "color": {"field": "v", "type": "quantitative", "legend": null,
                    "scale": {"type": "linear", "domain": [15, 20, 25, 30, 33], "range": ["#f7fcf0", "#c7e6b9", "#7bbccb", "#3f72b4", "#223b7b"], "interpolate": "rgb", "clamp": true, "zero": false, "nice": false}}
         }}
      ], "spacing": 1, "bounds": "flush"}
    ], "spacing": 0}
   ], "spacing": 48},
   {"hconcat": [
    {"width": 1, "height": 7, "data": {"values": [{}]}, "mark": {"type": "text", "text": ""}},
    {"width": 288, "height": 7, "data": {"values": [{"lo": 15, "hi": 33}]},
     "mark": {"type": "rect", "stroke": "#777777", "strokeWidth": 0.8,
              "fill": {"gradient": "linear", "x1": 0, "y1": 0, "x2": 1, "y2": 0,
                       "stops": [{"offset": 0, "color": "#f7fcf0"}, {"offset": 0.2778, "color": "#c7e6b9"}, {"offset": 0.5556, "color": "#7bbccb"}, {"offset": 0.8333, "color": "#3f72b4"}, {"offset": 1, "color": "#223b7b"}]}},
     "encoding": {"x": {"field": "lo", "type": "quantitative", "scale": {"domain": [15, 33], "nice": false, "zero": false},
                        "axis": {"values": [15, 20, 25, 30], "title": null, "ticks": true, "tickSize": 6, "tickColor": "#000", "domain": false, "grid": false, "labelFontSize": 8.5, "labelPadding": 7}},
                  "x2": {"field": "hi"}}}
   ], "spacing": 229, "bounds": "flush"}
  ], "spacing": 14}
 ]
}
